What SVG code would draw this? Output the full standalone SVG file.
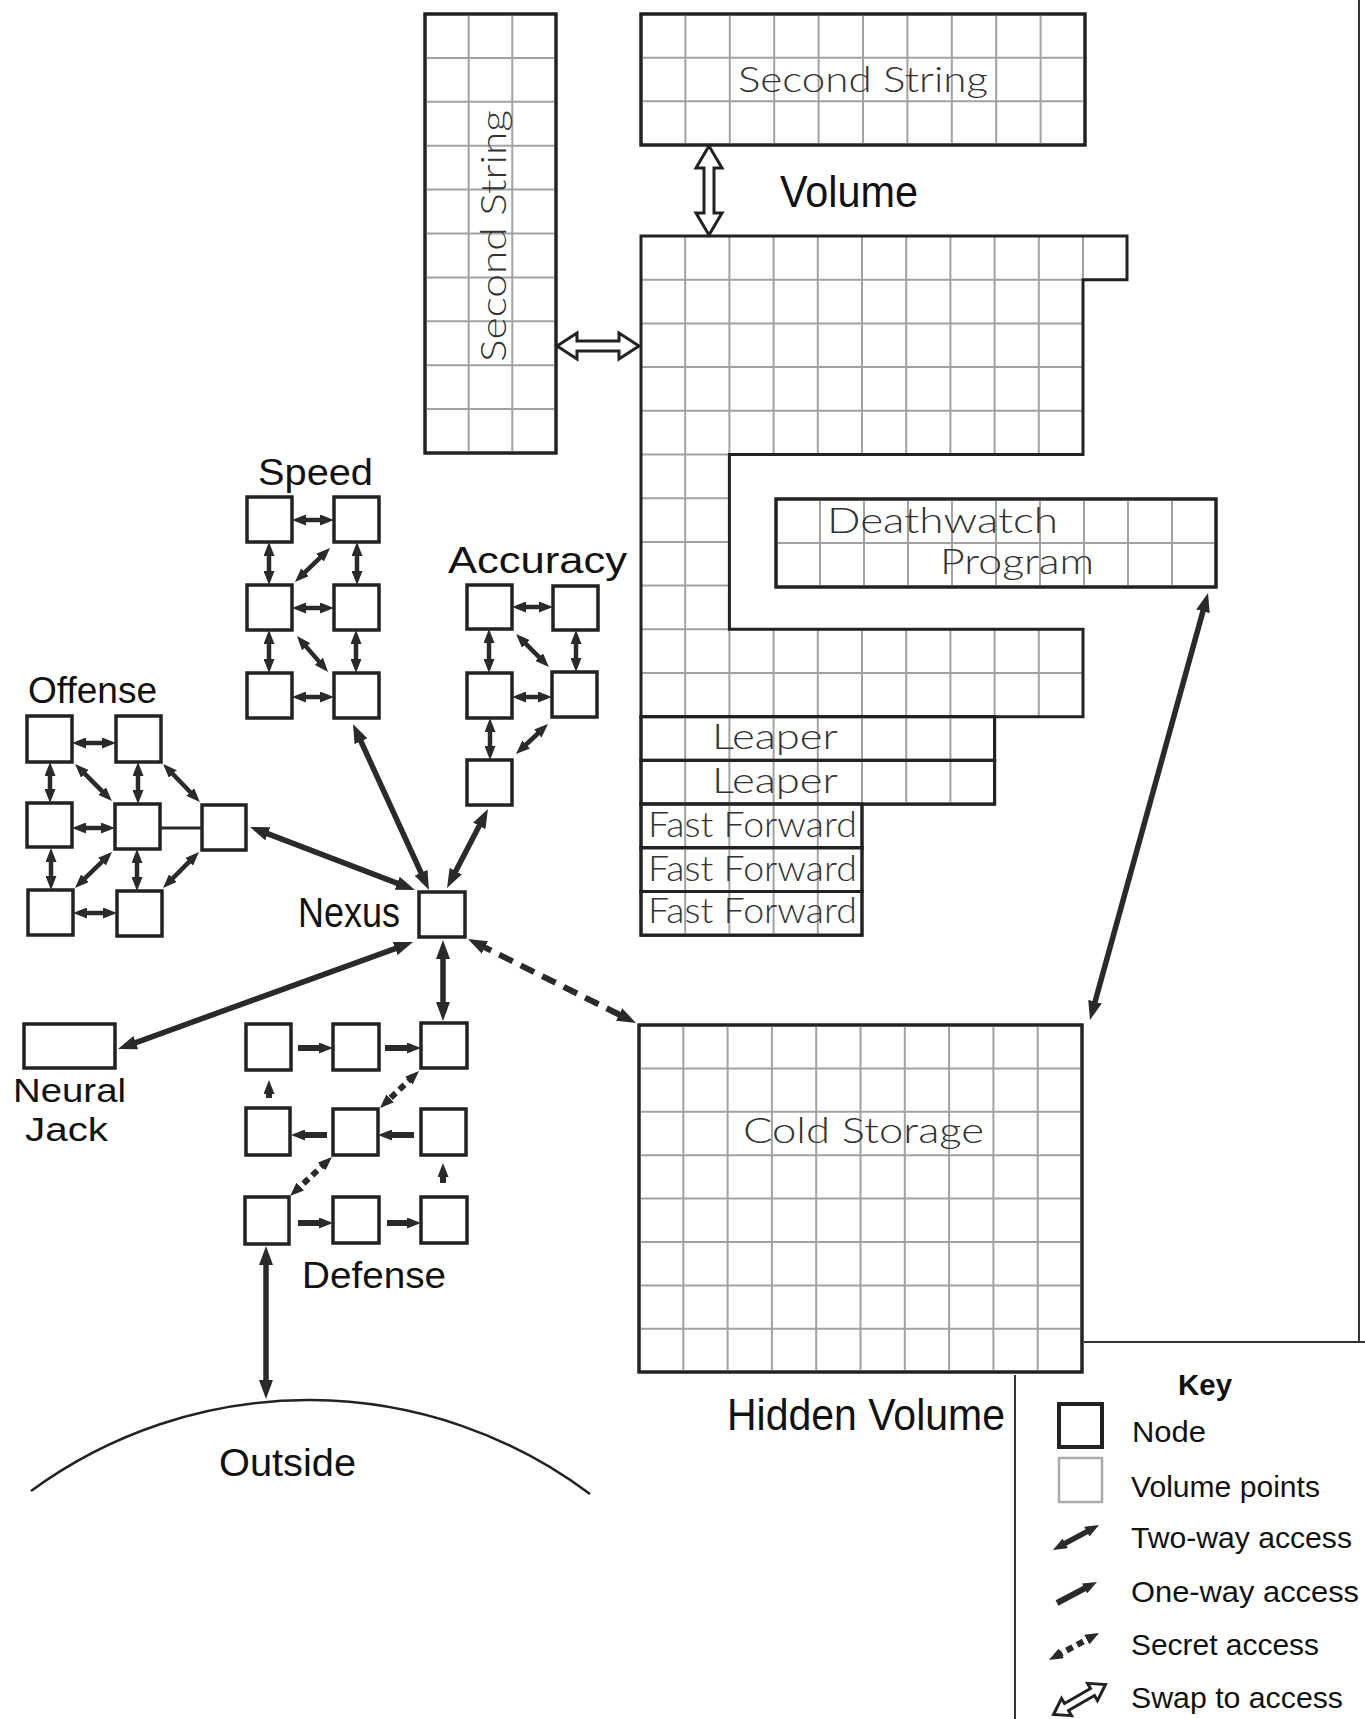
<svg xmlns="http://www.w3.org/2000/svg" width="1365" height="1719" viewBox="0 0 1365 1719">
<defs>
<style>
.node rect{fill:#fff;stroke:#222;stroke-width:3.5}
.vbox{fill:#fff;stroke:#222;stroke-width:3}
.grid{fill:none;stroke:#a2a2a2;stroke-width:2}
.lbl{font-family:"Liberation Sans",Arial,sans-serif;fill:#111}
.geo{font-family:Lato,"Open Sans",sans-serif;font-weight:300;fill:#333;font-size:35px}
.key{font-family:"Liberation Sans",Arial,sans-serif;fill:#111;font-size:29px}
.two{fill:none;stroke:#2a2a2a;stroke-width:4.5;marker-start:url(#h);marker-end:url(#h)}
.twoK{fill:none;stroke:#2a2a2a;stroke-width:5.5;marker-start:url(#h);marker-end:url(#h)}
.twoL{fill:none;stroke:#2a2a2a;stroke-width:5.5;marker-start:url(#H);marker-end:url(#H)}
.one{fill:none;stroke:#2a2a2a;stroke-width:6;marker-end:url(#h)}
.sec{fill:none;stroke:#2a2a2a;stroke-width:6;stroke-dasharray:15 9;marker-start:url(#H);marker-end:url(#H)}
.secS{fill:none;stroke:#2a2a2a;stroke-width:6;stroke-dasharray:7 5;marker-start:url(#h);marker-end:url(#h)}
.plain{fill:none;stroke:#2a2a2a;stroke-width:3}
.swap{fill:#fff;stroke:#222;stroke-width:3;stroke-linejoin:miter}
.frame{fill:none;stroke:#333;stroke-width:2}
</style>
<marker id="h" viewBox="0 0 14 11" refX="6" refY="5.5" markerWidth="14" markerHeight="11" markerUnits="userSpaceOnUse" orient="auto-start-reverse"><path d="M0,0 L14,5.5 L0,11 Z" fill="#2a2a2a"/></marker>
<marker id="H" viewBox="0 0 19 14" refX="8" refY="7" markerWidth="19" markerHeight="14" markerUnits="userSpaceOnUse" orient="auto-start-reverse"><path d="M0,0 L19,7 L0,14 Z" fill="#2a2a2a"/></marker>
<clipPath id="volClip"><path d="M641 236 H1127 V279.7 H1083 V454.5 H729.4 V629.3 H1083 V716.7 H641 Z"/></clipPath>
</defs>
<rect width="1365" height="1719" fill="#fff"/>

<!-- frame lines -->
<g id="frame">
<line class="frame" x1="1359" y1="0" x2="1359" y2="1343"/>
<line class="frame" x1="1084" y1="1342" x2="1365" y2="1342"/>
<line class="frame" x1="1015" y1="1375" x2="1015" y2="1719"/>
</g>

<!-- Second String vertical -->
<g id="second-string-vertical">
<rect class="vbox" x="425" y="14" width="131" height="439"/>
<path class="grid" d="M468.7 14V453M512.3 14V453M425 57.9H556M425 101.8H556M425 145.7H556M425 189.6H556M425 233.5H556M425 277.4H556M425 321.3H556M425 365.2H556M425 409.1H556"/>
<rect x="425" y="14" width="131" height="439" fill="none" stroke="#222" stroke-width="3"/>
<text class="geo" transform="translate(506,362) rotate(-90)" textLength="252" lengthAdjust="spacingAndGlyphs">Second String</text>
</g>

<!-- Second String horizontal -->
<g id="second-string-top">
<rect class="vbox" x="641" y="14" width="444" height="131"/>
<path class="grid" d="M685.4 14V145M729.8 14V145M774.2 14V145M818.6 14V145M863 14V145M907.4 14V145M951.8 14V145M996.2 14V145M1040.6 14V145M641 57.7H1085M641 101.3H1085"/>
<rect x="641" y="14" width="444" height="131" fill="none" stroke="#222" stroke-width="3"/>
<text class="geo" x="738" y="92" textLength="250" lengthAdjust="spacingAndGlyphs">Second String</text>
</g>

<!-- Main volume -->
<g id="volume">
<path d="M641 236 H1127 V279.7 H1083 V454.5 H729.4 V629.3 H1083 V716.7 H641 Z" fill="#fff"/>
<path class="grid" clip-path="url(#volClip)" d="M685.2 236V717M729.4 236V717M773.6 236V717M817.8 236V717M862 236V717M906.2 236V717M950.4 236V717M994.6 236V717M1038.8 236V717M1083 236V280M641 279.7H1127M641 323.4H1127M641 367.1H1127M641 410.8H1127M641 454.5H1127M641 498.2H1127M641 541.9H1127M641 585.6H1127M641 629.3H1127M641 673H1127"/>
<path d="M641 236 H1127 V279.7 H1083 V454.5 H729.4 V629.3 H1083 V716.7 H641 Z" fill="none" stroke="#222" stroke-width="3"/>
</g>

<g id="deathwatch">
<rect class="vbox" x="776" y="499" width="440" height="88"/>
<path class="grid" d="M820 499V587M864 499V587M908 499V587M952 499V587M996 499V587M1040 499V587M1084 499V587M1128 499V587M1172 499V587M776 543H1216"/>
<rect x="776" y="499" width="440" height="88" fill="none" stroke="#222" stroke-width="3"/>
<text class="geo" x="827" y="533" textLength="231" lengthAdjust="spacingAndGlyphs">Deathwatch</text>
<text class="geo" x="940" y="574" textLength="154" lengthAdjust="spacingAndGlyphs">Program</text>
</g>

<g id="leaper-1">
<rect class="vbox" x="641" y="716.7" width="353.6" height="43.7"/>
<path class="grid" d="M685.2 717V760M729.4 717V760M773.6 717V760M817.8 717V760M862 717V760M906.2 717V760M950.4 717V760"/>
<rect x="641" y="716.7" width="353.6" height="43.7" fill="none" stroke="#222" stroke-width="3"/>
<text class="geo" x="712" y="749" textLength="126" lengthAdjust="spacingAndGlyphs">Leaper</text>
</g>
<g id="leaper-2">
<rect class="vbox" x="641" y="760.4" width="353.6" height="43.7"/>
<path class="grid" d="M685.2 760V804M729.4 760V804M773.6 760V804M817.8 760V804M862 760V804M906.2 760V804M950.4 760V804"/>
<rect x="641" y="760.4" width="353.6" height="43.7" fill="none" stroke="#222" stroke-width="3"/>
<text class="geo" x="712" y="793" textLength="126" lengthAdjust="spacingAndGlyphs">Leaper</text>
</g>
<g id="fast-forward-1">
<rect class="vbox" x="641" y="804.1" width="221" height="43.7"/>
<path class="grid" d="M685.2 804V848M729.4 804V848M773.6 804V848M817.8 804V848"/>
<rect x="641" y="804.1" width="221" height="43.7" fill="none" stroke="#222" stroke-width="3"/>
<text class="geo" x="648" y="837" textLength="209" lengthAdjust="spacingAndGlyphs">Fast Forward</text>
</g>
<g id="fast-forward-2">
<rect class="vbox" x="641" y="847.8" width="221" height="43.7"/>
<path class="grid" d="M685.2 848V891M729.4 848V891M773.6 848V891M817.8 848V891"/>
<rect x="641" y="847.8" width="221" height="43.7" fill="none" stroke="#222" stroke-width="3"/>
<text class="geo" x="648" y="881" textLength="209" lengthAdjust="spacingAndGlyphs">Fast Forward</text>
</g>
<g id="fast-forward-3">
<rect class="vbox" x="641" y="891.5" width="221" height="43.7"/>
<path class="grid" d="M685.2 891V935M729.4 891V935M773.6 891V935M817.8 891V935"/>
<rect x="641" y="891.5" width="221" height="43.7" fill="none" stroke="#222" stroke-width="3"/>
<text class="geo" x="648" y="923" textLength="209" lengthAdjust="spacingAndGlyphs">Fast Forward</text>
</g>

<g id="cold-storage">
<rect class="vbox" x="639" y="1025" width="443" height="347"/>
<path class="grid" d="M683.3 1025V1372M727.6 1025V1372M771.9 1025V1372M816.2 1025V1372M860.5 1025V1372M904.8 1025V1372M949.1 1025V1372M993.4 1025V1372M1037.7 1025V1372M639 1068.4H1082M639 1111.8H1082M639 1155.2H1082M639 1198.6H1082M639 1242H1082M639 1285.4H1082M639 1328.8H1082"/>
<rect x="639" y="1025" width="443" height="347" fill="none" stroke="#222" stroke-width="3"/>
<text class="geo" x="743" y="1143" textLength="241" lengthAdjust="spacingAndGlyphs">Cold Storage</text>
</g>

<!-- Labels -->
<g id="labels">
<text class="lbl" x="780" y="207" font-size="44" textLength="138" lengthAdjust="spacingAndGlyphs">Volume</text>
<text class="lbl" x="727" y="1430" font-size="44" textLength="278" lengthAdjust="spacingAndGlyphs">Hidden Volume</text>
<text class="lbl" x="258" y="485" font-size="37" textLength="115" lengthAdjust="spacingAndGlyphs">Speed</text>
<text class="lbl" x="448" y="573" font-size="37" textLength="179" lengthAdjust="spacingAndGlyphs">Accuracy</text>
<text class="lbl" x="28" y="703" font-size="37" textLength="129" lengthAdjust="spacingAndGlyphs">Offense</text>
<text class="lbl" x="298" y="927" font-size="42" textLength="102" lengthAdjust="spacingAndGlyphs">Nexus</text>
<text class="lbl" x="13" y="1102" font-size="34" textLength="113" lengthAdjust="spacingAndGlyphs">Neural</text>
<text class="lbl" x="25" y="1141" font-size="34" textLength="83" lengthAdjust="spacingAndGlyphs">Jack</text>
<text class="lbl" x="302" y="1288" font-size="37" textLength="144" lengthAdjust="spacingAndGlyphs">Defense</text>
<text class="lbl" x="219" y="1476" font-size="38" textLength="137" lengthAdjust="spacingAndGlyphs">Outside</text>
</g>

<!-- Nodes -->
<g id="speed-1" class="node"><rect x="247" y="497" width="45" height="45"/></g>
<g id="speed-2" class="node"><rect x="334" y="497" width="45" height="45"/></g>
<g id="speed-3" class="node"><rect x="247" y="585" width="45" height="45"/></g>
<g id="speed-4" class="node"><rect x="334" y="585" width="45" height="45"/></g>
<g id="speed-5" class="node"><rect x="247" y="673" width="45" height="45"/></g>
<g id="speed-6" class="node"><rect x="334" y="673" width="45" height="45"/></g>

<g id="accuracy-1" class="node"><rect x="467" y="585" width="45" height="44"/></g>
<g id="accuracy-2" class="node"><rect x="553" y="586" width="45" height="44"/></g>
<g id="accuracy-3" class="node"><rect x="467" y="673" width="45" height="45"/></g>
<g id="accuracy-4" class="node"><rect x="552" y="672" width="45" height="45"/></g>
<g id="accuracy-5" class="node"><rect x="467" y="760" width="45" height="45"/></g>

<g id="offense-1" class="node"><rect x="27" y="716" width="45" height="46"/></g>
<g id="offense-2" class="node"><rect x="116" y="716" width="45" height="46"/></g>
<g id="offense-3" class="node"><rect x="27" y="803" width="45" height="44"/></g>
<g id="offense-4" class="node"><rect x="115" y="804" width="45" height="45"/></g>
<g id="offense-5" class="node"><rect x="202" y="805" width="44" height="45"/></g>
<g id="offense-6" class="node"><rect x="28" y="890" width="45" height="45"/></g>
<g id="offense-7" class="node"><rect x="117" y="891" width="45" height="45"/></g>

<g id="nexus" class="node"><rect x="419" y="892" width="46" height="45"/></g>
<g id="neural-jack" class="node"><rect x="24" y="1024" width="91" height="44"/></g>

<g id="defense-1" class="node"><rect x="246" y="1024" width="45" height="46"/></g>
<g id="defense-2" class="node"><rect x="333" y="1024" width="46" height="46"/></g>
<g id="defense-3" class="node"><rect x="421" y="1023" width="46" height="45"/></g>
<g id="defense-4" class="node"><rect x="246" y="1108" width="44" height="47"/></g>
<g id="defense-5" class="node"><rect x="333" y="1109" width="45" height="46"/></g>
<g id="defense-6" class="node"><rect x="421" y="1109" width="45" height="46"/></g>
<g id="defense-7" class="node"><rect x="245" y="1197" width="44" height="47"/></g>
<g id="defense-8" class="node"><rect x="333" y="1197" width="46" height="46"/></g>
<g id="defense-9" class="node"><rect x="421" y="1197" width="46" height="46"/></g>

<g id="outside">
<path d="M31 1491 A469 469 0 0 1 590 1494" fill="none" stroke="#222" stroke-width="2.5"/>
</g>

<!-- Connectors -->
<g id="connectors">
<!-- speed -->
<line class="two" x1="300" y1="520" x2="326" y2="520"/>
<line class="two" x1="269" y1="550" x2="269" y2="577"/>
<line class="two" x1="357" y1="550" x2="357" y2="577"/>
<line class="two" x1="300" y1="608" x2="326" y2="608"/>
<line class="two" x1="269" y1="638" x2="269" y2="665"/>
<line class="two" x1="356" y1="638" x2="356" y2="665"/>
<line class="two" x1="300" y1="697" x2="326" y2="697"/>
<line class="two" x1="324.3" y1="553.6" x2="300.7" y2="576.4"/>
<line class="two" x1="302.2" y1="642.1" x2="322.8" y2="665.9"/>
<!-- accuracy -->
<line class="two" x1="520" y1="607" x2="545" y2="607"/>
<line class="two" x1="489" y1="637" x2="489" y2="665"/>
<line class="two" x1="576" y1="638" x2="576" y2="664"/>
<line class="two" x1="521.7" y1="639.7" x2="543.3" y2="661.3"/>
<line class="two" x1="520" y1="697" x2="544" y2="697"/>
<line class="two" x1="490" y1="726" x2="490" y2="752"/>
<line class="two" x1="542.2" y1="729.5" x2="521.8" y2="748.5"/>
<!-- offense -->
<line class="two" x1="80" y1="743" x2="108" y2="743"/>
<line class="two" x1="50" y1="770" x2="50" y2="795"/>
<line class="two" x1="138" y1="770" x2="138" y2="796"/>
<line class="two" x1="80.7" y1="769.7" x2="106.3" y2="795.3"/>
<line class="two" x1="168.7" y1="769.7" x2="194.3" y2="796.3"/>
<line class="two" x1="80" y1="828" x2="107" y2="828"/>
<line class="plain" x1="160" y1="828" x2="202" y2="828"/>
<line class="two" x1="51" y1="856" x2="51" y2="882"/>
<line class="two" x1="137" y1="857" x2="137" y2="883"/>
<line class="two" x1="106.3" y1="857.6" x2="80.7" y2="882.4"/>
<line class="two" x1="193.3" y1="857.7" x2="168.7" y2="882.3"/>
<line class="two" x1="81" y1="913" x2="109" y2="913"/>
<!-- to nexus -->
<line class="twoL" x1="357.6" y1="734" x2="424.4" y2="880"/>
<line class="twoL" x1="482.9" y1="818.8" x2="452.1" y2="878.2"/>
<line class="twoL" x1="260.3" y1="830.9" x2="404.7" y2="886.1"/>
<line class="twoL" x1="402.7" y1="945.8" x2="128.3" y2="1045.3"/>
<line class="twoL" x1="443" y1="951" x2="443" y2="1010"/>
<line class="sec" x1="477.8" y1="943.9" x2="626.2" y2="1018.1"/>
<!-- defense -->
<line class="one" x1="298" y1="1048" x2="325" y2="1048"/>
<line class="one" x1="385" y1="1048" x2="413" y2="1048"/>
<line class="one" x1="269" y1="1098" x2="269" y2="1088"/>
<line class="secS" x1="413.2" y1="1076.5" x2="385.8" y2="1102.5"/>
<line class="one" x1="327" y1="1135" x2="299" y2="1135"/>
<line class="one" x1="414" y1="1135" x2="386" y2="1135"/>
<line class="one" x1="443" y1="1183" x2="443" y2="1171"/>
<line class="secS" x1="326.1" y1="1162.4" x2="295.9" y2="1190.6"/>
<line class="one" x1="298" y1="1223" x2="325" y2="1223"/>
<line class="one" x1="387" y1="1223" x2="413" y2="1223"/>
<line class="twoL" x1="266" y1="1257" x2="266" y2="1388"/>
<!-- volumes -->
<line class="twoL" x1="1205.1" y1="603.6" x2="1092.9" y2="1009.4"/>
<polygon class="swap" points="709,146 722,168 714,168 714,213 722,213 709,235 696,213 704,213 704,168 696,168"/>
<polygon class="swap" points="557,346 577,333 577,341 619,341 619,333 639,346 619,359 619,351 577,351 577,359"/>
</g>

<!-- Key -->
<g id="key">
<text class="key" x="1178" y="1395" font-weight="bold" textLength="54" lengthAdjust="spacingAndGlyphs">Key</text>
<rect x="1059" y="1404" width="43" height="43" fill="#fff" stroke="#222" stroke-width="4"/>
<text class="key" x="1132" y="1442" textLength="74" lengthAdjust="spacingAndGlyphs">Node</text>
<rect x="1059" y="1458" width="43" height="44" fill="#fff" stroke="#aaa" stroke-width="2.5"/>
<text class="key" x="1131" y="1497" textLength="189" lengthAdjust="spacingAndGlyphs">Volume points</text>
<line class="twoK" x1="1060" y1="1546.2" x2="1092" y2="1528.8"/>
<text class="key" x="1131" y="1548" textLength="221" lengthAdjust="spacingAndGlyphs">Two-way access</text>
<line class="one" x1="1057" y1="1603" x2="1089.9" y2="1585.7"/>
<text class="key" x="1131" y="1602" textLength="228" lengthAdjust="spacingAndGlyphs">One-way access</text>
<line class="secS" x1="1056" y1="1656.2" x2="1092" y2="1636.8"/>
<text class="key" x="1131" y="1655" textLength="188" lengthAdjust="spacingAndGlyphs">Secret access</text>
<polygon class="swap" transform="translate(1079.5,1699.5) rotate(-30)" points="-30,0 -15,-10 -15,-4 15,-4 15,-10 30,0 15,10 15,4 -15,4 -15,10"/>
<text class="key" x="1131" y="1708" textLength="212" lengthAdjust="spacingAndGlyphs">Swap to access</text>
</g>
</svg>
